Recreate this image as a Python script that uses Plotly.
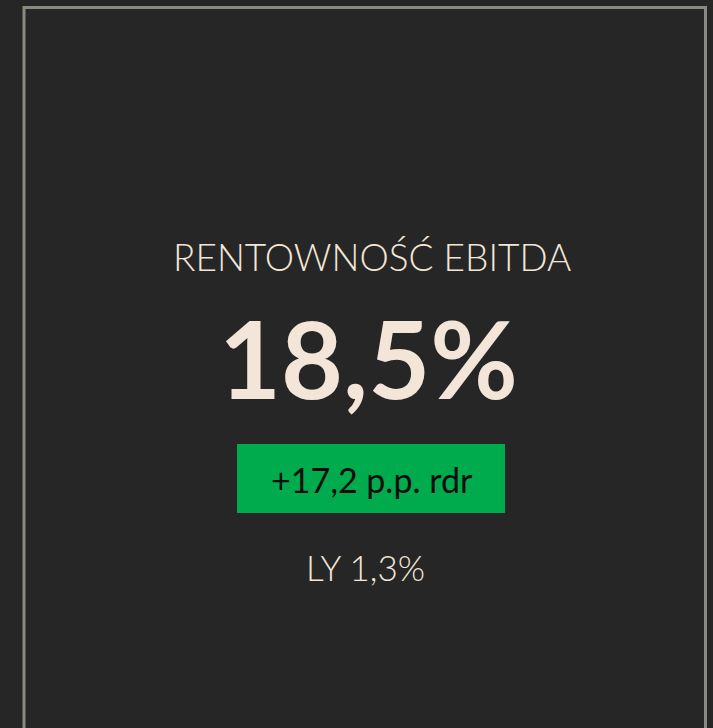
import plotly.graph_objects as go

W, H = 713, 728

# Data
title_text = ["RENTOWNOŚĆ EBITDA"]
kpi_value = [18.5]
delta_pp = [17.2]
last_year = [1.3]

def pl(v, d=1):
    return f"{v:.{d}f}".replace(".", ",")

BG = "#262626"
CREAM = "#f3e6d8"
GREEN = "#00ab4e"
BORDER = "#8a887f"

def px(x):
    return x / W

def py(y):
    return 1 - y / H

fig = go.Figure()
fig.update_layout(
    width=W, height=H,
    margin=dict(l=0, r=0, t=0, b=0),
    paper_bgcolor=BG, plot_bgcolor=BG,
    xaxis=dict(visible=False, range=[0, 1]),
    yaxis=dict(visible=False, range=[0, 1]),
    showlegend=False,
)

# border (open at bottom)
fig.add_shape(type="path",
              path=f"M {px(24)} {py(740)} L {px(24)} {py(7.5)} L {px(705.5)} {py(7.5)} L {px(705.5)} {py(740)}",
              xref="paper", yref="paper", line=dict(color=BORDER, width=3))

# green box
fig.add_shape(type="rect", xref="paper", yref="paper",
              x0=px(237), x1=px(505), y0=py(513), y1=py(444),
              fillcolor=GREEN, line=dict(width=0), layer="below")

fig.add_annotation(x=px(372), y=py(256), xref="paper", yref="paper", text=title_text[0],
                   showarrow=False, font=dict(family="Lato", size=37, color=CREAM, weight=300),
                   xanchor="center", yanchor="middle")
fig.add_annotation(x=px(368), y=py(357), xref="paper", yref="paper", text=f"{pl(kpi_value[0])}%",
                   showarrow=False, font=dict(family="Lato", size=107, color=CREAM, weight="bold"),
                   xanchor="center", yanchor="middle")
fig.add_annotation(x=px(372), y=py(479), xref="paper", yref="paper", text=f"+{pl(delta_pp[0])} p.p. rdr",
                   showarrow=False, font=dict(family="Lato", size=34, color="#0d0d0d"),
                   xanchor="center", yanchor="middle")
fig.add_annotation(x=px(365), y=py(567), xref="paper", yref="paper", text=f"LY {pl(last_year[0])}%",
                   showarrow=False, font=dict(family="Lato", size=35, color=CREAM, weight=300),
                   xanchor="center", yanchor="middle")

fig.write_html("out.html", config={"displayModeBar": False},
               post_script="document.body.style.margin='0';document.body.style.background='#262626';")
